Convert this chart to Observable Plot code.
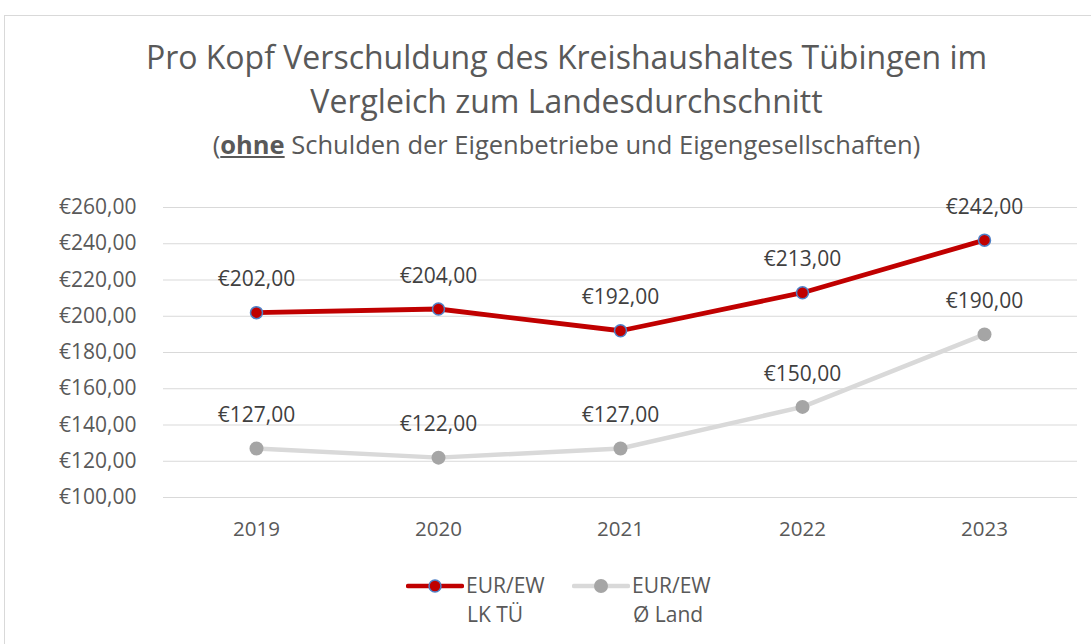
<!DOCTYPE html>
<html>
<head>
<meta charset="utf-8">
<script src="https://cdn.jsdelivr.net/npm/d3@7"></script>
<script src="https://cdn.jsdelivr.net/npm/@observablehq/plot@0.6"></script>
<style>
  html, body { margin: 0; padding: 0; background: #fff; }
  #wrap { position: relative; width: 1091px; height: 644px; overflow: hidden; font-family: "Open Sans", sans-serif; }
  #frame { position: absolute; left: 4px; top: 15px; width: 1200px; height: 800px; border: 1px solid #d9d9d9; box-sizing: border-box; }
  .t { position: absolute; left: 0; width: 1133px; text-align: center; color: #595959; white-space: nowrap; }
  #plot { position: absolute; left: 0; top: 0; }
  .leg { position: absolute; color: #595959; font-size: 21px; line-height: 29px; }
</style>
</head>
<body>
<div id="wrap">
  <div id="frame"></div>
  <div id="plot"></div>
  <div class="t" style="top:35px; font-size:32px; line-height:44px;">Pro Kopf Verschuldung des Kreishaushaltes Tübingen im<br>Vergleich zum Landesdurchschnitt</div>
  <div class="t" style="top:128px; font-size:25.5px; line-height:32px;">(<b style="text-decoration:underline;">ohne</b> Schulden der Eigenbetriebe und Eigengesellschaften)</div>
  <div id="legend"></div>
</div>
<script>
const years = ["2019", "2020", "2021", "2022", "2023"];
const lkTue = [202, 204, 192, 213, 242];
const land = [127, 122, 127, 150, 190];
const yTicks = [100, 120, 140, 160, 180, 200, 220, 240, 260];
const seriesNames = ["EUR/EW\nLK TÜ", "EUR/EW\nØ Land"];

const locale = d3.formatLocale({decimal: ",", thousands: ".", grouping: [3], currency: ["€", ""]});
const fmt = locale.format("$.2f");

const red = years.map((y, i) => ({year: y, value: lkTue[i]}));
const gray = years.map((y, i) => ({year: y, value: land[i]}));

const chart = Plot.plot({
  width: 1091,
  height: 644,
  marginTop: 207,
  marginBottom: 147,
  marginLeft: 163,
  marginRight: 14,
  style: {fontFamily: "'Open Sans', sans-serif", fontSize: "18px", color: "#595959", background: "transparent"},
  x: {type: "point", domain: years, padding: 0.5, label: null},
  y: {domain: [100, 260], label: null},
  marks: [
    Plot.ruleY(yTicks, {stroke: "#d9d9d9", strokeWidth: 1}),
    Plot.axisY({ticks: yTicks, tickFormat: fmt, tickSize: 0, tickPadding: 27, fontSize: 21, fill: "#595959", label: null}),
    Plot.axisX({tickSize: 0, tickPadding: 24, fontSize: 20.5, fill: "#595959", label: null}),
    Plot.line(gray, {x: "year", y: "value", stroke: "#d9d9d9", strokeWidth: 4.5}),
    Plot.line(red, {x: "year", y: "value", stroke: "#c00000", strokeWidth: 4.8}),
    Plot.dot(gray, {x: "year", y: "value", r: 7, fill: "#a5a5a5", stroke: "none"}),
    Plot.dot(red, {x: "year", y: "value", r: 6, fill: "#c00000", stroke: "#4f81c7", strokeWidth: 1.5}),
    Plot.text(gray, {x: "year", y: "value", text: d => fmt(d.value), dy: -33, fontSize: 21, fill: "#404040"}),
    Plot.text(red, {x: "year", y: "value", text: d => fmt(d.value), dy: -33, fontSize: 21, fill: "#404040"})
  ]
});
document.getElementById("plot").appendChild(chart);

// legend
const leg = document.getElementById("legend");
const items = [
  {x: 406, stroke: "#c00000", fill: "#c00000", mstroke: "#4f81c7", r: 6, name: seriesNames[0]},
  {x: 572, stroke: "#d9d9d9", fill: "#a5a5a5", mstroke: "none", r: 7, name: seriesNames[1]}
];
items.forEach(it => {
  const svg = d3.create("svg").attr("width", 58).attr("height", 20)
    .style("position", "absolute").style("left", it.x + "px").style("top", "576px");
  svg.append("line").attr("x1", 2).attr("x2", 56).attr("y1", 10).attr("y2", 10)
    .attr("stroke", it.stroke).attr("stroke-width", 4.5).attr("stroke-linecap", "round");
  svg.append("circle").attr("cx", 29).attr("cy", 10).attr("r", it.r)
    .attr("fill", it.fill).attr("stroke", it.mstroke).attr("stroke-width", 1.5);
  leg.appendChild(svg.node());
  const lines = it.name.split("\n");
  const d = document.createElement("div");
  d.className = "leg";
  d.style.left = (it.x + 60) + "px";
  d.style.top = "571px";
  d.innerHTML = lines[0] + "<br><span style='padding-left:1px'>" + lines[1] + "</span>";
  leg.appendChild(d);
});
</script>
</body>
</html>
